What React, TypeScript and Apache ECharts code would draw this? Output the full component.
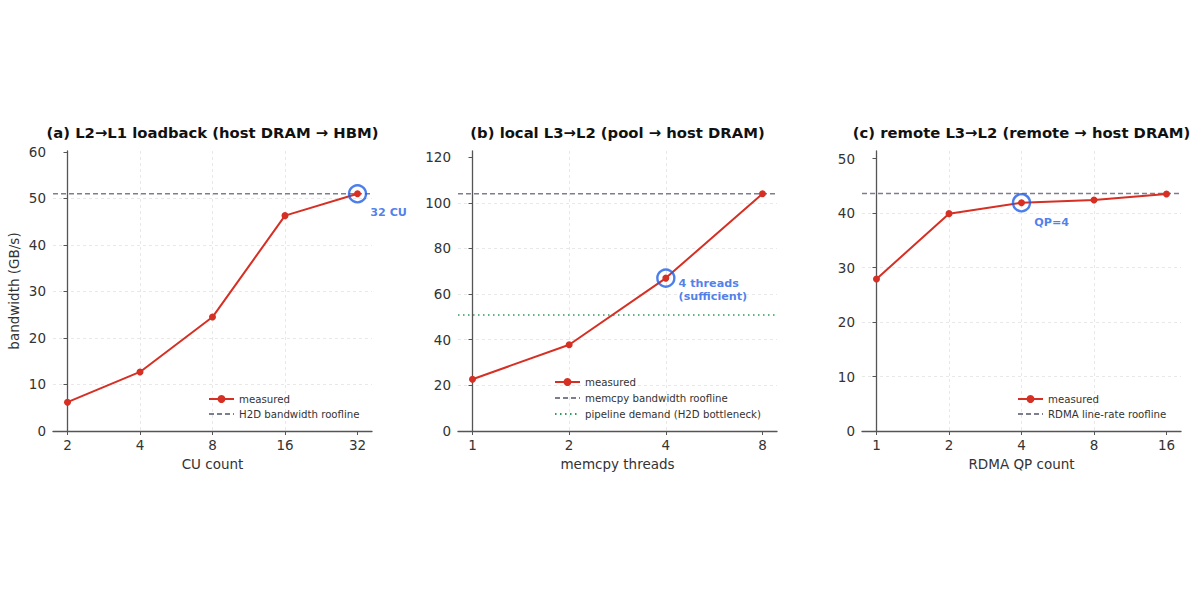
import React, { useEffect, useRef } from "react";
import * as echarts from "echarts";

const FONT = "DejaVu Sans";

// Panel (a)
const catsA = ["2", "4", "8", "16", "32"];
const measuredA = [6.2, 12.7, 24.5, 46.3, 51.0];
const rooflineA = 51.0;
const yTicksA = [0, 10, 20, 30, 40, 50, 60];
const yMaxA = 60.2;

// Panel (b)
const catsB = ["1", "2", "4", "8"];
const measuredB = [22.7, 37.8, 67.0, 104.0];
const rooflineB = 104.0;
const demandB = 50.8;
const yTicksB = [0, 20, 40, 60, 80, 100, 120];
const yMaxB = 122.7;

// Panel (c)
const catsC = ["1", "2", "4", "8", "16"];
const measuredC = [27.9, 39.9, 41.9, 42.4, 43.5];
const rooflineC = 43.6;
const yTicksC = [0, 10, 20, 30, 40, 50];
const yMaxC = 51.4;

const RED = "#d62f23";
const GRAY = "#7c7e8e";
const GREEN = "#2f9a5c";
const BLUE = "#1f5fe6";

const titles = [
  "(a) L2→L1 loadback (host DRAM → HBM)",
  "(b) local L3→L2 (pool → host DRAM)",
  "(c) remote L3→L2 (remote → host DRAM)",
];
const xNames = ["CU count", "memcpy threads", "RDMA QP count"];
const yName = "bandwidth (GB/s)";

const gridLefts = [53, 458, 862];
const GRID_W = 319;
const GRID_TOP = 151;
const GRID_H = 280;

export default function App() {
  const ref = useRef<HTMLDivElement>(null);
  useEffect(() => {
    if (!ref.current) return;
    const chart = echarts.init(ref.current, null, { renderer: "svg" });

    const panels = [
      {
        cats: catsA, measured: measuredA, yTicks: yTicksA, yMax: yMaxA,
        lines: [{ name: "H2D bandwidth roofline", value: rooflineA, color: GRAY, dash: [5, 3] }],
        hi: 4, hiLabel: "32 CU", hiOffset: [0, 19],
        legend: { left: 208, top: 394, gap: 5 },
      },
      {
        cats: catsB, measured: measuredB, yTicks: yTicksB, yMax: yMaxB,
        lines: [
          { name: "memcpy bandwidth roofline", value: rooflineB, color: GRAY, dash: [5, 3] },
          { name: "pipeline demand (H2D bottleneck)", value: demandB, color: GREEN, dash: [1.5, 3.5] },
        ],
        hi: 2, hiLabel: "4 threads\n(sufficient)", hiOffset: [0, 12],
        legend: { left: 554, top: 377, gap: 6 },
      },
      {
        cats: catsC, measured: measuredC, yTicks: yTicksC, yMax: yMaxC,
        lines: [{ name: "RDMA line-rate roofline", value: rooflineC, color: GRAY, dash: [5, 3] }],
        hi: 2, hiLabel: "QP=4", hiOffset: [0, 20],
        legend: { left: 1017, top: 394, gap: 5 },
      },
    ];

    const grid: any[] = [];
    const xAxis: any[] = [];
    const yAxis: any[] = [];
    const series: any[] = [];
    const legend: any[] = [];
    const title: any[] = [];

    panels.forEach((p, i) => {
      const n = p.cats.length;
      const pad = (n - 1) * 0.05;
      const xMin = -pad;
      const xMax = n - 1 + pad;
      grid.push({ left: gridLefts[i], top: GRID_TOP, width: GRID_W, height: GRID_H, containLabel: false });
      const xIdx = p.cats.map((_, k) => k);
      xAxis.push({
        type: "value", gridIndex: i, min: xMin, max: xMax,
        name: xNames[i], nameLocation: "middle", nameGap: 26,
        nameTextStyle: { fontFamily: FONT, fontSize: 13.5, color: "#333" },
        axisLine: { show: true, onZero: false, lineStyle: { color: "#555", width: 1.3 } },
        axisTick: { show: true, customValues: xIdx, length: 4, lineStyle: { color: "#555" } },
        axisLabel: {
          customValues: xIdx, fontFamily: FONT, fontSize: 13.5, color: "#333", margin: 7,
          formatter: (v: number) => p.cats[Math.round(v)] ?? "",
        },
        splitLine: { show: true, showMinLine: false, showMaxLine: false, lineStyle: { color: "#e2e2e2", type: [3, 3], width: 0.8 } },
      });
      yAxis.push({
        type: "value", gridIndex: i, min: 0, max: p.yMax,
        name: i === 0 ? yName : "", nameLocation: "middle", nameGap: 32,
        nameTextStyle: { fontFamily: FONT, fontSize: 13.5, color: "#333" },
        axisLine: { show: true, lineStyle: { color: "#555", width: 1.3 } },
        axisTick: { show: true, customValues: p.yTicks, length: 4, lineStyle: { color: "#555" } },
        axisLabel: { customValues: p.yTicks, fontFamily: FONT, fontSize: 13.5, color: "#333", margin: 7 },
        splitLine: { show: true, showMinLine: false, showMaxLine: false, lineStyle: { color: "#e2e2e2", type: [3, 3], width: 0.8 } },
      });

      const legendData: any[] = [{ name: "measured" }];
      p.lines.forEach((l) => {
        legendData.push({ name: l.name, itemStyle: { opacity: 0, borderWidth: 0 } });
        series.push({
          type: "line", name: l.name, xAxisIndex: i, yAxisIndex: i,
          data: [[xMin, l.value], [xMax, l.value]],
          symbol: "none", silent: true, z: 2,
          lineStyle: { color: l.color, width: 1.5, type: l.dash },
          itemStyle: { color: l.color },
        });
      });
      series.push({
        type: "line", name: "measured", xAxisIndex: i, yAxisIndex: i,
        data: p.measured.map((v, k) => [k, v]),
        symbol: "circle", symbolSize: 7, z: 3,
        lineStyle: { color: RED, width: 2 },
        itemStyle: { color: RED },
      });
      series.push({
        type: "scatter", name: "hi" + i, xAxisIndex: i, yAxisIndex: i,
        data: [[p.hi, p.measured[p.hi]]],
        symbol: "circle", symbolSize: 17, z: 4, silent: true,
        itemStyle: { color: "rgba(0,0,0,0)", borderColor: BLUE, borderWidth: 2.4 },
        label: {
          show: true, position: "right", distance: 3, offset: p.hiOffset,
          formatter: p.hiLabel, fontFamily: FONT, fontWeight: "bold", fontSize: 11.2,
          color: BLUE, align: "left", lineHeight: 13,
        },
      });
      legend.push({
        data: legendData, orient: "vertical", left: p.legend.left, top: p.legend.top,
        itemGap: p.legend.gap, itemWidth: 25, itemHeight: 10, padding: 0,
        textStyle: { fontFamily: FONT, fontSize: 10.2, color: "#333" },
        selectedMode: false,
      });
      title.push({
        text: titles[i], left: gridLefts[i] + GRID_W / 2, top: 125, textAlign: "center",
        textStyle: { fontFamily: FONT, fontSize: 14.8, fontWeight: "bold", color: "#111" },
        padding: 0,
      });
    });

    chart.setOption({
      animation: false,
      backgroundColor: "#fff",
      title, grid, xAxis, yAxis, series, legend,
    });
    return () => chart.dispose();
  }, []);
  return (
    <div
      ref={ref}
      style={{ position: "fixed", left: 0, top: 0, width: 1200, height: 600, background: "#fff" }}
    />
  );
}
